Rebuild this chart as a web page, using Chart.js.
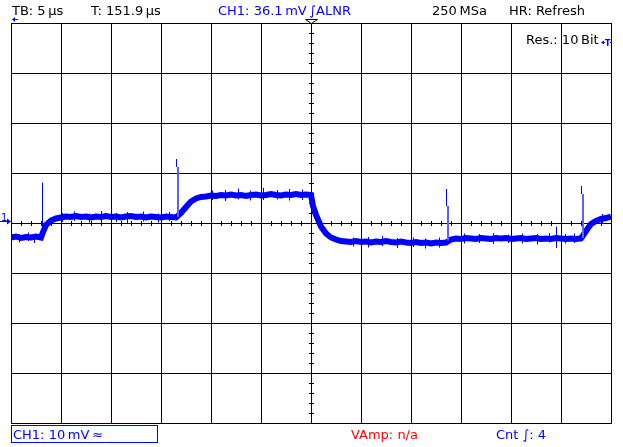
<!DOCTYPE html>
<html>
<head>
<meta charset="utf-8">
<script src="https://cdn.jsdelivr.net/npm/chart.js@4.4.1/dist/chart.umd.min.js"></script>
<style>
  html, body { margin: 0; padding: 0; background: #fff; }
  #wrap { position: relative; width: 623px; height: 447px; overflow: hidden; }
  #scope { position: absolute; left: 0; top: 0; }
  .lbl { position: absolute; font: 13px "DejaVu Sans", sans-serif; line-height: 15px; white-space: nowrap; color: #000; }
  .blue { color: #0000ff; }
  .red { color: #ff0000; }
  #chbox { position: absolute; left: 11px; top: 425px; width: 145px; height: 16px; border: 1px solid #0000ff; }
</style>
</head>
<body>
<div id="wrap">
  <canvas id="scope" width="623" height="447"></canvas>
  <span class="lbl" style="left:12px;top:3px">TB: 5&#8201;µs</span>
  <span class="lbl" style="left:91px;top:3px">T: 151.9&#8201;µs</span>
  <span class="lbl blue" style="left:218px;top:3px">CH1: 36.1&#8201;mV&#8201;∫ALNR</span>
  <span class="lbl" style="left:432px;top:3px">250&#8201;MSa</span>
  <span class="lbl" style="left:509px;top:3px">HR: Refresh</span>
  <span class="lbl" style="left:526px;top:32px">Res.: 10&#8201;Bit</span>
  <div id="chbox"></div>
  <span class="lbl blue" style="left:13px;top:427px">CH1: 10&#8201;mV&#8201;≈</span>
  <span class="lbl red" style="left:351px;top:427px">VAmp: n/a</span>
  <span class="lbl blue" style="left:496px;top:427px">Cnt ∫: 4</span>
</div>
<script>
// time base 5 us/div, 12 div; 10 mV/div, 8 div
const xTicks = [-30, -25, -20, -15, -10, -5, 0, 5, 10, 15, 20, 25, 30];
const yTicks = [-40, -30, -20, -10, 0, 10, 20, 30, 40];
const trigLevel = 36.1; // mV

// CH1 trace, time in us, voltage in mV
const timeUs = [
  -30, -29.5, -29, -28.5, -28, -27.5, -27, -26.8, -26.5, -26, -25.5, -25,
  -24.5, -24, -23.5, -23, -22.5, -22, -21.5, -21, -20.5, -20, -19.5, -19,
  -18.5, -18, -17.5, -17, -16.5, -16, -15.5, -15, -14.5, -14, -13.5, -13,
  -12.5, -12, -11.5, -11, -10.5, -10, -9.5, -9, -8.5, -8, -7.5, -7,
  -6.5, -6, -5.5, -5, -4.5, -4, -3.5, -3, -2.5, -2, -1.5, -1, -0.5, 0,
  0.2, 0.5, 1, 1.5, 2, 2.5, 3, 3.5, 4, 4.5, 5, 5.5, 6, 6.5, 7, 7.5,
  8, 8.5, 9, 9.5, 10, 10.5, 11, 11.5, 12, 12.5, 13, 13.5, 14, 14.5,
  15, 15.5, 16, 16.5, 17, 17.5, 18, 18.5, 19, 19.5, 20, 20.5, 21, 21.5,
  22, 22.5, 23, 23.5, 24, 24.5, 25, 25.5, 26, 26.5, 27, 27.5, 28, 28.5,
  29, 29.5, 30
];
const ch1mV = [
  -2.9, -2.7, -3.0, -2.8, -2.9, -2.7, -2.9, -1.8, -0.4, 0.5, 0.9, 1.1,
  1.3, 1.2, 1.4, 1.2, 1.3, 1.1, 1.3, 1.2, 1.4, 1.2, 1.3, 1.1,
  1.3, 1.4, 1.2, 1.3, 1.1, 1.3, 1.2, 1.1, 1.3, 1.2, 1.1, 2.0,
  3.2, 4.3, 4.9, 5.2, 5.3, 5.5, 5.4, 5.6, 5.5, 5.7, 5.5, 5.6,
  5.4, 5.6, 5.7, 5.5, 5.6, 5.8, 5.6, 5.5, 5.7, 5.6, 5.8, 5.6, 5.7, 5.6,
  3.4, 1.6, -0.7, -2.1, -2.9, -3.3, -3.6, -3.7, -3.8, -3.6, -3.8, -3.7, -3.9, -3.7, -3.8, -3.6,
  -3.8, -3.9, -3.7, -3.9, -4.0, -3.8, -4.0, -3.9, -4.1, -3.9, -4.0, -3.9, -3.3, -3.1,
  -3.2, -3.0, -3.1, -3.2, -3.0, -3.1, -3.2, -3.0, -3.1, -3.0, -3.2, -3.1, -3.0, -3.2,
  -3.1, -3.0, -3.2, -3.1, -3.2, -3.0, -3.1, -3.2, -3.1, -3.2, -3.1, -1.6, -0.2, 0.4,
  0.8, 1.0, 1.3
];

// noise peaks sticking out of the trace band
const noiseT = [
  -29.15, -28.25, -27.65, -24.85, -23.65, -22.15, -20.95, -19.45, -18.35, -16.75,
  -15.25, -14.15, -9.85, -8.55, -7.25, -6.05, -4.75, -3.35, -2.15, -0.85,
  4.25, 5.75, 7.15, 8.65, 10.25, 11.45, 12.85, 15.35, 16.85, 18.25,
  19.75, 21.15, 22.65, 23.85, 25.45, 26.35, 29.15
];
const noiseLow = [
  -3.9, -3.6, -4.0, 0.2, 0.4, 0.1, 0.3, 0.2, 0.0, 0.3,
  0.1, 0.4, 4.6, 4.4, 4.7, 4.5, 4.6, 4.7, 4.5, 4.6,
  -4.7, -4.9, -4.6, -5.0, -4.8, -5.1, -4.9, -4.1, -4.0, -4.2,
  -4.0, -4.1, -4.3, -3.9, -4.1, -4.0, -0.2
];
const noiseHigh = [
  -2.2, -1.9, -2.3, 2.0, 2.3, 1.9, 2.4, 2.0, 2.2, 2.3,
  1.9, 2.2, 6.5, 6.6, 6.9, 6.5, 7.0, 6.6, 6.8, 6.7,
  -2.9, -2.8, -2.6, -3.0, -2.9, -3.1, -2.9, -2.1, -2.2, -2.0,
  -2.3, -2.1, -2.2, -2.0, -2.2, -2.1, 1.8
];

// glitches (dark part) and their afterglow (light part)
const spikeT = [-26.85, -13.45, 13.55, 27.05, 24.55];
const spikeLow = [-2.0, 11.2, 3.4, 5.8, -5.0];
const spikeHigh = [8.1, 12.8, 6.8, 7.4, -0.7];
const glowT = [-13.3, 13.7, 27.2];
const glowLow = [1.2, -3.5, -3.0];
const glowHigh = [11.2, 3.4, 5.8];

function segments(ts, lo, hi) {
    const pts = [];
    ts.forEach((t, i) => {
        pts.push({ x: t, y: lo[i] }, { x: t, y: hi[i] }, { x: t, y: null });
    });
    return pts;
}

// centre cross ticks, trigger / ground markers
const scopeMarks = {
    id: 'scopeMarks',
    beforeDatasetsDraw(chart) {
        const { ctx, scales: { x, y } } = chart;
        const cx = Math.round(x.getPixelForValue(0)) + 0.5;
        const cy = Math.round(y.getPixelForValue(0)) + 0.5;
        ctx.save();
        ctx.strokeStyle = '#000';
        ctx.lineWidth = 1;
        ctx.beginPath();
        for (let t = -30; t <= 30; t += 1) {
            const px = Math.round(x.getPixelForValue(t)) + 0.5;
            ctx.moveTo(px, cy - 2.5);
            ctx.lineTo(px, cy + 2.5);
        }
        for (let v = -40; v <= 40; v += 2) {
            const py = Math.round(y.getPixelForValue(v)) + 0.5;
            ctx.moveTo(cx - 2.5, py);
            ctx.lineTo(cx + 2.5, py);
        }
        ctx.stroke();
        ctx.restore();
    },
    afterDraw(chart) {
        const { ctx, chartArea, scales: { x, y } } = chart;
        const cx = Math.round(x.getPixelForValue(0));
        const top = chartArea.top;
        ctx.save();
        // trigger position
        ctx.strokeStyle = '#000';
        ctx.fillStyle = '#fff';
        ctx.lineWidth = 1;
        ctx.beginPath();
        ctx.moveTo(cx - 5.5, top - 3.5);
        ctx.lineTo(cx + 6.5, top - 3.5);
        ctx.lineTo(cx + 0.5, top + 0.5);
        ctx.closePath();
        ctx.fill();
        ctx.stroke();

        ctx.strokeStyle = '#0000ff';
        ctx.fillStyle = '#0000ff';
        // small arrow top left
        ctx.beginPath();
        ctx.moveTo(chartArea.left + 2, top - 3.5);
        ctx.lineTo(chartArea.left + 7, top - 3.5);
        ctx.stroke();
        ctx.beginPath();
        ctx.moveTo(chartArea.left + 1, top - 3.5);
        ctx.lineTo(chartArea.left + 4, top - 6);
        ctx.lineTo(chartArea.left + 4, top - 1);
        ctx.closePath();
        ctx.fill();

        // ground marker "1"
        const gy = Math.round(y.getPixelForValue(0)) - 1.5;
        ctx.font = '10px "DejaVu Sans", sans-serif';
        ctx.textBaseline = 'alphabetic';
        ctx.fillText('1', 1, gy - 1);
        ctx.beginPath();
        ctx.moveTo(0, gy);
        ctx.lineTo(chartArea.left - 2, gy);
        ctx.stroke();
        ctx.beginPath();
        ctx.moveTo(chartArea.left, gy);
        ctx.lineTo(chartArea.left - 4, gy - 3);
        ctx.lineTo(chartArea.left - 4, gy + 3);
        ctx.closePath();
        ctx.fill();

        // trigger level marker
        const ty = Math.round(y.getPixelForValue(trigLevel)) - 0.5;
        const r = chartArea.right;
        ctx.beginPath();
        ctx.moveTo(r - 10, ty);
        ctx.lineTo(r - 7, ty - 2);
        ctx.lineTo(r - 7, ty + 2);
        ctx.closePath();
        ctx.fill();
        ctx.beginPath();
        ctx.moveTo(r - 8, ty);
        ctx.lineTo(r - 6, ty);
        ctx.moveTo(r - 1, ty);
        ctx.lineTo(r + 1, ty);
        ctx.stroke();
        ctx.font = 'bold 8px "DejaVu Sans", sans-serif';
        ctx.textBaseline = 'middle';
        ctx.fillText('T', r - 6, ty + 1);
        ctx.restore();
    }
};

const ctx = document.getElementById('scope').getContext('2d');
new Chart(ctx, {
    type: 'line',
    data: {
        datasets: [
            {
                label: 'CH1',
                data: timeUs.map((t, i) => ({ x: t, y: ch1mV[i] })),
                borderColor: '#0000ff',
                borderWidth: 6,
                pointRadius: 0,
                tension: 0,
                borderJoinStyle: 'miter',
                order: 4,
            },
            {
                label: 'noise',
                data: segments(noiseT, noiseLow, noiseHigh),
                borderColor: '#0000ff',
                borderWidth: 1,
                pointRadius: 0,
                spanGaps: false,
                order: 3,
            },
            {
                label: 'afterglow',
                data: segments(glowT, glowLow, glowHigh),
                borderColor: '#6060ff',
                borderWidth: 2,
                pointRadius: 0,
                spanGaps: false,
                order: 2,
            },
            {
                label: 'glitch',
                data: segments(spikeT, spikeLow, spikeHigh),
                borderColor: '#0000ff',
                borderWidth: 1,
                pointRadius: 0,
                spanGaps: false,
                order: 1,
            },
        ],
    },
    options: {
        responsive: false,
        animation: false,
        devicePixelRatio: 1,
        layout: { padding: { left: 11, right: 12, top: 23, bottom: 24 } },
        plugins: {
            legend: { display: false },
            tooltip: { enabled: false },
        },
        scales: {
            x: {
                type: 'linear',
                min: -30,
                max: 30,
                afterBuildTicks: (s) => { s.ticks = xTicks.map(v => ({ value: v })); },
                ticks: { display: false },
                grid: { color: '#000', lineWidth: 1, drawTicks: false },
                border: { color: '#000', width: 1 },
            },
            y: {
                type: 'linear',
                min: -40,
                max: 40,
                afterBuildTicks: (s) => { s.ticks = yTicks.map(v => ({ value: v })); },
                ticks: { display: false },
                grid: { color: '#000', lineWidth: 1, drawTicks: false },
                border: { color: '#000', width: 1 },
            },
        },
    },
    plugins: [scopeMarks],
});
</script>
</body>
</html>
